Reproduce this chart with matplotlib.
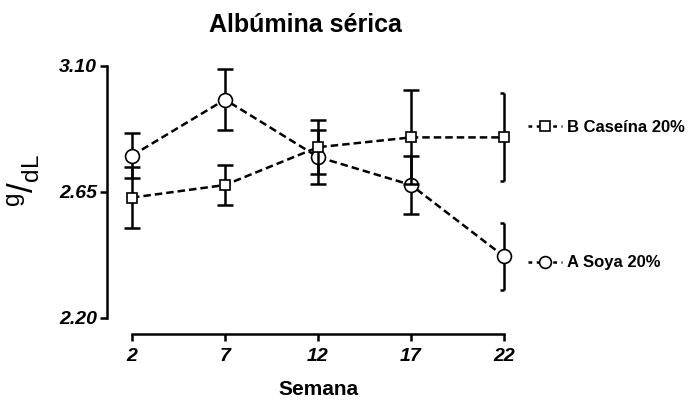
import matplotlib
matplotlib.use("Agg")
import matplotlib.pyplot as plt
from matplotlib.path import Path
from matplotlib.lines import Line2D

weeks = [2, 7, 12, 17, 22]
soya = [2.78, 2.98, 2.775, 2.675, 2.42]
soya_err = [0.08, 0.11, 0.096, 0.104, 0.12]
casein = [2.63, 2.675, 2.81, 2.845, 2.845]
casein_err = [0.11, 0.073, 0.097, 0.168, 0.157]
yticks = [2.20, 2.65, 3.10]
ytick_labels = ["2.20", "2.65", "3.10"]
series_labels = ["A Soya 20%", "B Caseína 20%"]

plt.rcParams['font.family'] = ['Liberation Sans', 'DejaVu Sans']
plt.rcParams['mathtext.fontset'] = 'custom'
plt.rcParams['mathtext.rm'] = 'Liberation Sans'
plt.rcParams['mathtext.it'] = 'Liberation Sans'
plt.rcParams['mathtext.default'] = 'regular'

fig = plt.figure(figsize=(6.95, 4.0), dpi=100)
ax = fig.add_axes([132/695, 1-318/400, 372/695, 252/400])

half_cap = Path([(-1, 0), (0, 0)], [Path.MOVETO, Path.LINETO])

def draw(y, err, marker, ms, z):
    ax.plot(weeks, y, ls=(0, (3, 1.6)), color='black', lw=1.8, zorder=z, clip_on=False)
    ax.errorbar(weeks[:-1], y[:-1], yerr=err[:-1], fmt='none', ecolor='black',
                elinewidth=1.8, capsize=5.5, capthick=1.8, zorder=z, clip_on=False)
    eb = ax.errorbar(weeks[-1:], y[-1:], yerr=err[-1:], fmt='none', ecolor='black',
                     elinewidth=1.8, capsize=5.5, capthick=1.8, zorder=z, clip_on=False)
    for cl in eb[1]:
        cl.set_marker(half_cap)
        cl.set_markersize(5.5)
        cl.set_clip_on(False)
    for c in eb[2]:
        c.set_clip_on(False)
    ax.plot(weeks, y, ls='none', marker=marker, ms=ms, mfc='white', mec='black',
            mew=1.2, zorder=z + 0.5, clip_on=False)

draw(soya, soya_err, 'o', 10, 3)
draw(casein, casein_err, 's', 7.5, 4)

ax.set_xlim(2, 22)
ax.set_ylim(2.20, 3.10)
ax.set_xticks(weeks)
ax.set_xticklabels([str(w) for w in weeks])
ax.set_yticks(yticks)
ax.set_yticklabels(ytick_labels)

for s in ['top', 'right']:
    ax.spines[s].set_visible(False)
ax.spines['left'].set_position(('outward', 18))
ax.spines['bottom'].set_position(('outward', 11.5))
for s in ['left', 'bottom']:
    ax.spines[s].set_linewidth(1.8)
ax.tick_params(axis='both', width=1.8, length=5, direction='out')
for lab in ax.get_xticklabels() + ax.get_yticklabels():
    lab.set_fontweight('bold')
    lab.set_fontstyle('italic')
    lab.set_fontsize(14)
ax.tick_params(axis='x', pad=5)
ax.tick_params(axis='y', pad=2)

ax.set_xlabel('Semana', fontsize=15, fontweight='bold', labelpad=11)
fig.text(24/695, 1-180/400, r'$^{g}/_{dL}$', rotation=90, fontsize=25,
         ha='center', va='center')
fig.text(305/695, 1-25/400, 'Albúmina sérica', fontsize=18, fontweight='bold',
         ha='center', va='center')

h_cas = Line2D([], [], color='black', ls=(0, (1.5, 1.8)), lw=1.8, marker='s', ms=6.5,
               mfc='white', mec='black', mew=1.2)
h_soy = Line2D([], [], color='black', ls=(0, (1.5, 1.8)), lw=1.8, marker='o', ms=8.5,
               mfc='white', mec='black', mew=1.2)
leg_kw = dict(frameon=False, handlelength=2.0, handletextpad=0.3, borderpad=0,
              loc='center left', prop={'weight': 'bold', 'size': 12},
              bbox_transform=fig.transFigure)
leg1 = fig.legend([h_cas], [series_labels[1]], bbox_to_anchor=(520/695, 1-127/400), **leg_kw)
leg2 = fig.legend([h_soy], [series_labels[0]], bbox_to_anchor=(520/695, 1-263/400), **leg_kw)

fig.savefig('out.png', dpi=100)
